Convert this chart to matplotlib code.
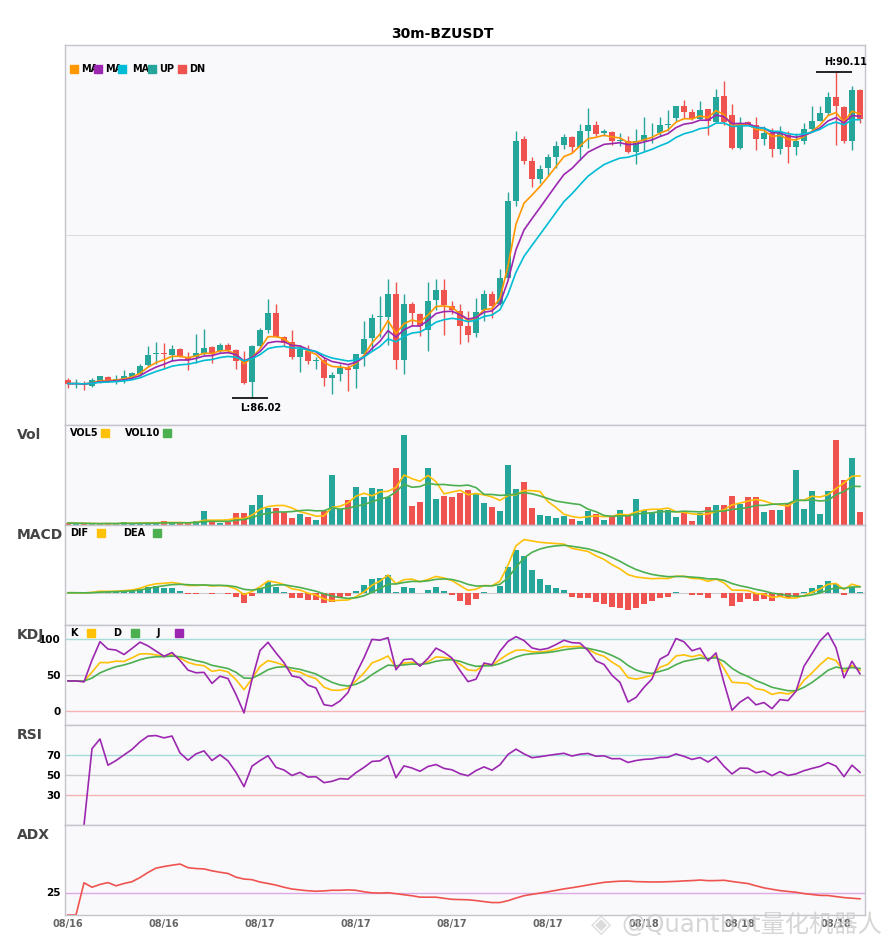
import numpy as np
import pandas as pd
import matplotlib
matplotlib.use("Agg")
import matplotlib.pyplot as plt
from matplotlib.patches import Rectangle

plt.rcParams['font.family'] = ['DejaVu Sans', 'Noto Sans CJK SC']

symbol = 'BZUSDT'
interval = '30m'
start = '2024-08-16 12:00'

# 30m candles
opens = [86.25, 86.19, 86.20, 86.17, 86.23, 86.28, 86.23, 86.24, 86.28, 86.32,
         86.43, 86.57, 86.58, 86.56, 86.64, 86.52, 86.53, 86.59, 86.66, 86.61,
         86.68, 86.62, 86.50, 86.22, 86.67, 86.87, 87.08, 86.78, 86.72, 86.53,
         86.61, 86.48, 86.49, 86.27, 86.32, 86.40, 86.38, 86.57, 86.77, 87.03,
         87.04, 87.32, 86.50, 87.20, 87.07, 86.87, 87.25, 87.38, 87.17, 87.11,
         86.92, 86.83, 87.12, 87.33, 87.20, 87.53, 88.49, 89.27, 88.99, 88.77,
         88.90, 89.04, 89.20, 89.30, 89.17, 89.37, 89.45, 89.34, 89.36, 89.25,
         89.25, 89.11, 89.24, 89.34, 89.35, 89.45, 89.53, 89.68, 89.61, 89.52,
         89.65, 89.48, 89.81, 89.57, 89.16, 89.48, 89.44, 89.27, 89.35, 89.15,
         89.32, 89.17, 89.24, 89.39, 89.50, 89.60, 89.80, 89.67, 89.24, 89.89]
highs = [86.27, 86.26, 86.23, 86.27, 86.30, 86.30, 86.31, 86.37, 86.35, 86.45,
         86.67, 86.72, 86.71, 86.69, 86.65, 86.60, 86.82, 86.88, 86.67, 86.71,
         86.71, 86.63, 86.61, 86.68, 86.90, 87.26, 87.20, 86.80, 86.87, 86.69,
         86.69, 86.53, 86.53, 86.35, 86.44, 86.43, 86.57, 86.99, 87.07, 87.30,
         87.51, 87.48, 87.32, 87.22, 87.09, 87.48, 87.51, 87.51, 87.24, 87.20,
         87.11, 87.28, 87.38, 87.36, 87.64, 88.60, 89.37, 89.31, 89.04, 88.94,
         89.08, 89.25, 89.33, 89.31, 89.46, 89.66, 89.50, 89.40, 89.37, 89.35,
         89.31, 89.40, 89.54, 89.47, 89.55, 89.64, 89.68, 89.76, 89.65, 89.75,
         89.65, 89.90, 90.00, 89.71, 89.54, 89.49, 89.55, 89.43, 89.41, 89.43,
         89.37, 89.35, 89.47, 89.69, 89.68, 89.86, 90.11, 89.68, 89.93, 89.90]
lows = [86.15, 86.15, 86.12, 86.16, 86.21, 86.22, 86.20, 86.21, 86.27, 86.30,
        86.41, 86.44, 86.39, 86.48, 86.53, 86.37, 86.46, 86.56, 86.46, 86.58,
        86.59, 86.38, 86.20, 86.02, 86.66, 86.84, 86.78, 86.67, 86.51, 86.35,
        86.45, 86.38, 86.17, 86.07, 86.23, 86.11, 86.15, 86.42, 86.61, 86.78,
        86.69, 86.38, 86.32, 86.92, 86.80, 86.61, 87.12, 86.81, 87.07, 86.70,
        86.72, 86.78, 86.99, 87.02, 87.19, 87.52, 88.43, 88.95, 88.67, 88.72,
        88.81, 88.90, 89.14, 89.10, 89.00, 89.16, 89.31, 89.31, 89.20, 89.18,
        89.10, 88.96, 89.12, 89.22, 89.31, 89.37, 89.50, 89.53, 89.51, 89.51,
        89.32, 89.48, 89.45, 89.15, 89.15, 89.44, 89.13, 89.20, 89.05, 89.08,
        88.97, 89.07, 89.21, 89.38, 89.49, 89.57, 89.19, 89.22, 89.13, 89.47]
closes = [86.20, 86.20, 86.18, 86.24, 86.29, 86.24, 86.26, 86.29, 86.33, 86.42,
          86.56, 86.58, 86.57, 86.63, 86.54, 86.49, 86.59, 86.65, 86.57, 86.68,
          86.62, 86.48, 86.21, 86.67, 86.87, 87.09, 86.79, 86.71, 86.53, 86.64,
          86.48, 86.49, 86.27, 86.31, 86.39, 86.37, 86.57, 86.76, 87.02, 87.05,
          87.33, 86.50, 87.20, 87.09, 86.92, 87.24, 87.38, 87.19, 87.12, 86.92,
          86.81, 87.10, 87.33, 87.17, 87.53, 88.49, 89.25, 88.99, 88.77, 88.89,
          89.04, 89.18, 89.30, 89.17, 89.37, 89.45, 89.33, 89.37, 89.25, 89.26,
          89.11, 89.24, 89.32, 89.35, 89.45, 89.46, 89.68, 89.61, 89.52, 89.63,
          89.50, 89.80, 89.48, 89.16, 89.47, 89.46, 89.27, 89.35, 89.15, 89.34,
          89.17, 89.24, 89.39, 89.50, 89.60, 89.80, 89.68, 89.24, 89.89, 89.52]
volumes = [6, 5, 4, 3, 3, 6, 4, 10, 4, 6,
           9, 5, 13, 5, 5, 5, 12, 43, 8, 5,
           9, 37, 37, 60, 91, 52, 52, 38, 22, 34,
           23, 16, 41, 151, 49, 76, 115, 85, 112, 109,
           85, 172, 271, 58, 70, 172, 79, 88, 85, 97,
           106, 97, 67, 55, 43, 181, 109, 130, 52, 31,
           28, 22, 28, 19, 13, 43, 34, 16, 25, 46,
           28, 79, 46, 37, 46, 46, 25, 37, 13, 37,
           55, 61, 61, 88, 64, 85, 85, 40, 46, 46,
           67, 166, 49, 103, 34, 103, 256, 136, 202, 40]

df = pd.DataFrame({'open': opens, 'high': highs, 'low': lows,
                   'close': closes, 'volume': volumes},
                  index=pd.date_range(start, periods=len(closes), freq='30min'))
n = len(df)
x = np.arange(n)
o, h, l, c, v = df.open, df.high, df.low, df.close, df.volume

UP, DN = '#26a69a', '#ef5350'
colors = np.where(c >= o, UP, DN)

# ---- indicators
ma5 = c.ewm(span=5, adjust=False).mean()
ma8 = c.ewm(span=8, adjust=False).mean()
ma13 = c.ewm(span=13, adjust=False).mean()

vol5 = v.rolling(5, min_periods=1).mean()
vol10 = v.rolling(10, min_periods=1).mean()

dif = c.ewm(span=6, adjust=False).mean() - c.ewm(span=13, adjust=False).mean()
dea = dif.ewm(span=5, adjust=False).mean()
macd = 2 * (dif - dea)

low9 = l.rolling(9, min_periods=1).min()
high9 = h.rolling(9, min_periods=1).max()
rsv = (c - low9) / (high9 - low9) * 100
k = rsv.ewm(com=2, adjust=False).mean()
d = k.ewm(com=2, adjust=False).mean()
j = 3 * k - 2 * d

delta = c.diff()
gain = delta.clip(lower=0).ewm(alpha=1/14).mean()
loss = (-delta.clip(upper=0)).ewm(alpha=1/14).mean()
rsi = 100 - 100 / (1 + gain / loss)

prev_c = c.shift()
tr = pd.concat([h - l, (h - prev_c).abs(), (l - prev_c).abs()], axis=1).max(axis=1)
up_move = h.diff()
dn_move = -l.diff()
pdm = pd.Series(np.where((up_move > dn_move) & (up_move > 0), up_move, 0.0), index=df.index)
mdm = pd.Series(np.where((dn_move > up_move) & (dn_move > 0), dn_move, 0.0), index=df.index)
atr = tr.ewm(alpha=1/14).mean()
pdi = 100 * pdm.ewm(alpha=1/14).mean() / atr
mdi = 100 * mdm.ewm(alpha=1/14).mean() / atr
dx = (100 * (pdi - mdi).abs() / (pdi + mdi)).fillna(0)
adx = dx.ewm(alpha=1/14).mean()

# ---- layout
W, H = 885, 950
fig = plt.figure(figsize=(W / 100, H / 100), dpi=100)
fig.patch.set_facecolor('white')


def panel(top, bottom):
    ax = fig.add_axes([65 / W, 1 - bottom / H, 800 / W, (bottom - top) / H])
    ax.set_facecolor('#f9f9fb')
    for s in ax.spines.values():
        s.set_color('#c4c4cc')
        s.set_linewidth(1)
    ax.set_xlim(-0.375, n - 0.375)
    ax.set_xticks([])
    ax.set_yticks([])
    ax.tick_params(length=0, labelsize=7.5, pad=3)
    return ax


def legend(items, y):
    # items: (text_x, label, color, square_x) in pixels
    for tx, label, col, sx in items:
        fig.text(tx / W, 1 - y / H, label, fontsize=7, fontweight='bold', va='center')
        fig.patches.append(Rectangle((sx / W, 1 - (y + 4) / H), 8 / W, 8 / H,
                                     transform=fig.transFigure, color=col, zorder=5))


def title(label, y):
    fig.text(17 / W, 1 - y / H, label, fontsize=10, fontweight='bold',
             color='#444444', va='center')


ax = panel(45, 425)
axv = panel(425, 525)
axm = panel(525, 625)
axk = panel(625, 725)
axr = panel(725, 825)
axa = panel(825, 915)

# ---- price
ax.vlines(x, l, h, colors=colors, linewidth=1, zorder=2)
body = np.maximum((c - o).abs(), 0.008)
ax.bar(x, body, bottom=np.minimum(o, c), width=0.8, color=colors, zorder=3)
ax.plot(x, ma5, color='#ff9800', lw=1.2, zorder=4)
ax.plot(x, ma8, color='#9c27b0', lw=1.2, zorder=4)
ax.plot(x, ma13, color='#00bcd4', lw=1.2, zorder=4)
lo, hi = l.min(), h.max()
pad = (hi - lo) * 0.083
ax.set_ylim(lo - pad, hi + pad)
ax.axhline((lo + hi) / 2, color='#dddddd', lw=0.8, zorder=0)

il, ih = int(l.values.argmin()), int(h.values.argmax())
ax.hlines(lo, il - 2.5, il + 2, color='black', lw=1.2, zorder=5)
ax.text(il - 1.5, lo - pad * 0.2, f'L:{lo:.2f}', fontsize=7, fontweight='bold', va='top', ha='left')
ax.hlines(hi, ih - 2.5, ih + 2, color='black', lw=1.2, zorder=5)
ax.text(ih - 1.5, hi + pad * 0.2, f'H:{hi:.2f}', fontsize=7, fontweight='bold', va='bottom', ha='left')

legend([(81, 'MA', '#ff9800', 70), (105, 'MA', '#9c27b0', 94),
        (132, 'MA', '#00bcd4', 118), (159, 'UP', UP, 148), (189, 'DN', DN, 178)], 69)
fig.text(0.5, 1 - 34 / H, f'{interval}-{symbol}', fontsize=10, fontweight='bold', ha='center', va='center')

# ---- volume
axv.bar(x, v, width=0.75, color=colors)
axv.plot(x, vol5, color='#ffc107', lw=1.2)
axv.plot(x, vol10, color='#4caf50', lw=1.2)
axv.set_ylim(0, v.max() * 1.107)
title('Vol', 435)
legend([(70, 'VOL5', '#ffc107', 101), (125, 'VOL10', '#4caf50', 163)], 433)

# ---- MACD
axm.bar(x, macd, width=0.75, color=np.where(macd >= 0, UP, DN))
axm.axhline(0, color='#cfcfcf', lw=0.8, zorder=0)
axm.plot(x, dif, color='#ffc107', lw=1.2)
axm.plot(x, dea, color='#4caf50', lw=1.2)
mlo = min(macd.min(), dif.min(), dea.min())
mhi = max(macd.max(), dif.max(), dea.max())
mp = (mhi - mlo) * 0.205
axm.set_ylim(mlo - mp, mhi + mp)
title('MACD', 535)
legend([(70, 'DIF', '#ffc107', 97), (123, 'DEA', '#4caf50', 153)], 533)

# ---- KDJ
for lvl, col in [(100, '#a8dcd8'), (50, '#cccccc'), (0, '#f4b4b4')]:
    axk.axhline(lvl, color=col, lw=1, zorder=0)
axk.plot(x, k, color='#ffc107', lw=1.2)
axk.plot(x, d, color='#4caf50', lw=1.2)
axk.plot(x, j, color='#9c27b0', lw=1.2)
axk.set_ylim(-20, 120)
axk.set_yticks([0, 50, 100])
title('KDJ', 635)
legend([(70, 'K', '#ffc107', 87), (113, 'D', '#4caf50', 131), (157, 'J', '#9c27b0', 175)], 633)

# ---- RSI
for lvl, col in [(70, '#a8dcd8'), (50, '#cccccc'), (30, '#f4b4b4')]:
    axr.axhline(lvl, color=col, lw=1, zorder=0)
axr.plot(x, rsi, color='#9c27b0', lw=1.2)
axr.set_ylim(0, 100)
axr.set_yticks([30, 50, 70])
title('RSI', 735)

# ---- ADX
axa.axhline(25, color='#dda8e6', lw=1, zorder=0)
axa.plot(x, adx, color='#ef5350', lw=1.2)
axa.set_ylim(0, 100)
axa.set_yticks([25])
title('ADX', 835)

ticks = list(range(0, n, 12))
axa.set_xticks(ticks)
axa.set_xticklabels([df.index[i].strftime('%m/%d') for i in ticks],
                    fontsize=7, fontweight='bold', color='#666666')
for a in (axk, axr, axa):
    for t in a.get_yticklabels():
        t.set_fontweight('bold')

# watermark
fig.text(601 / W, 1 - 925 / H, '◈', fontsize=19, color='#d4d4d4', ha='center', va='center', alpha=0.8)
fig.text(621 / W, 1 - 925 / H, '@QuantBot量化机器人', fontsize=17.5, color='#cccccc',
         va='center', alpha=0.8, zorder=6)

fig.savefig('out.png', dpi=100)
